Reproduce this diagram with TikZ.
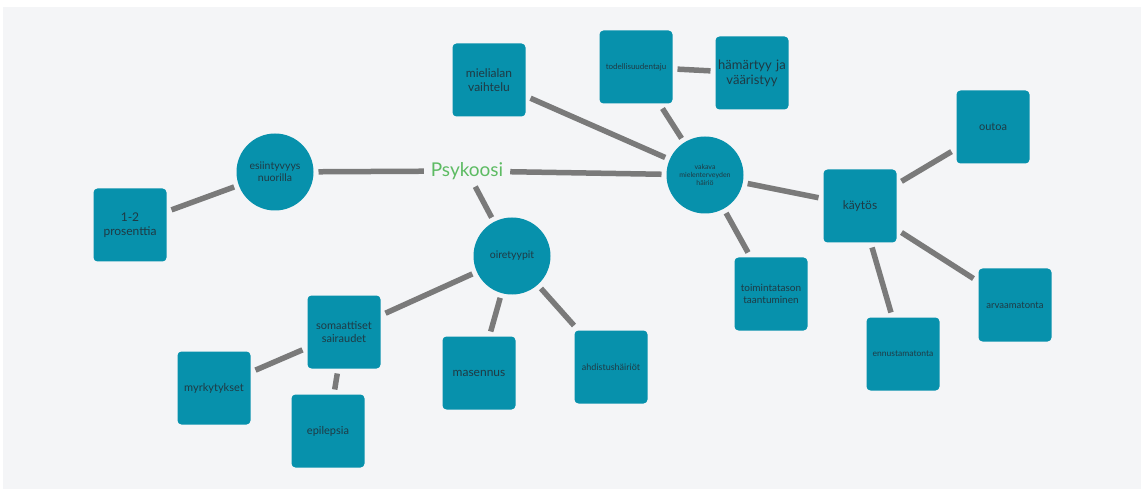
\documentclass[tikz,border=0pt]{standalone}
\usepackage{fontspec}
\setmainfont{Lato}
\definecolor{bgray}{HTML}{F4F5F7}
\definecolor{teal}{HTML}{0791AC}
\definecolor{ink}{HTML}{1F3A44}
\definecolor{edge}{HTML}{7A7A7A}
\definecolor{green}{HTML}{5DBB63}
\newcommand{\fsz}[1]{\fontsize{#1}{#1}\selectfont\setlength\baselineskip{1.15\baselineskip}}
\tikzset{
  sq/.style={fill=teal, rounded corners=4pt, minimum width=73pt, minimum height=73pt, text width=70pt, align=center, text=ink, inner sep=0pt, outer sep=5pt, font=\fsz{#1}},
  sq/.default=11,
  circ/.style={circle, fill=teal, minimum size=77pt, text width=60pt, align=center, text=ink, inner sep=0pt, outer sep=5pt, font=\fsz{#1}},
  lnk/.style={draw=edge, line width=5.5pt},
}
\begin{document}
\begin{tikzpicture}[x=1pt,y=-1pt]
\useasboundingbox (0,0) rectangle (1141,489);
\fill[white] (0,0) rectangle (1141,489);
\fill[bgray] (3,7) rectangle (1141,489);

\node[sq=12] (mieli) at (489,80) {mielialan\\vaihtelu};
\node[sq=8] (todel) at (636,67) {todellisuudentaju};
\node[sq=13] (hama) at (752,73) {hämärtyy ja\\vääristyy};
\node[sq=11] (outoa) at (993,127) {outoa};
\node[sq=12] (pros) at (130,225) {1-2\\prosenttia};
\node[sq=12] (kaytos) at (860,206) {käytös};
\node[sq=10] (toim) at (771,294) {toimintatason\\taantuminen};
\node[sq=9.5] (arv) at (1015,305) {arvaamatonta};
\node[sq=11] (soma) at (344,332) {somaattiset\\sairaudet};
\node[sq=12] (mase) at (479,373) {masennus};
\node[sq=9] (ahd) at (611,367) {ahdistushäiriöt};
\node[sq=8.5] (ennu) at (903,354) {ennustamatonta};
\node[sq=11] (myrk) at (214,388) {myrkytykset};
\node[sq=11] (epil) at (328,431) {epilepsia};

\node[circ=10.5] (esi) at (275,172) {esiintyvyys\\nuorilla};
\node[circ=7] (vak) at (705,175) {vakava\\mielenterveyden\\häiriö};
\node[circ=10.5] (oire) at (512,256) {oiretyypit};

\node[text=green, font=\fsz{19}, inner sep=0pt, outer sep=7pt] (psy) at (467,171) {Psykoosi};

\draw[lnk] (esi) -- (pros);
\draw[lnk] (esi) -- (psy);
\draw[lnk] (psy) -- (vak);
\draw[lnk] (psy) -- (oire);
\draw[lnk] (oire) -- (soma);
\draw[lnk] (oire) -- (mase);
\draw[lnk] (oire) -- (ahd);
\draw[lnk] (soma) -- (myrk);
\draw[lnk] (soma) -- (epil);
\draw[lnk] (vak) -- (mieli);
\draw[lnk] (vak) -- (todel);
\draw[lnk] (todel) -- (hama);
\draw[lnk] (vak) -- (kaytos);
\draw[lnk] (vak) -- (toim);
\draw[lnk] (kaytos) -- (outoa);
\draw[lnk] (kaytos) -- (arv);
\draw[lnk] (kaytos) -- (ennu);
\end{tikzpicture}
\end{document}
